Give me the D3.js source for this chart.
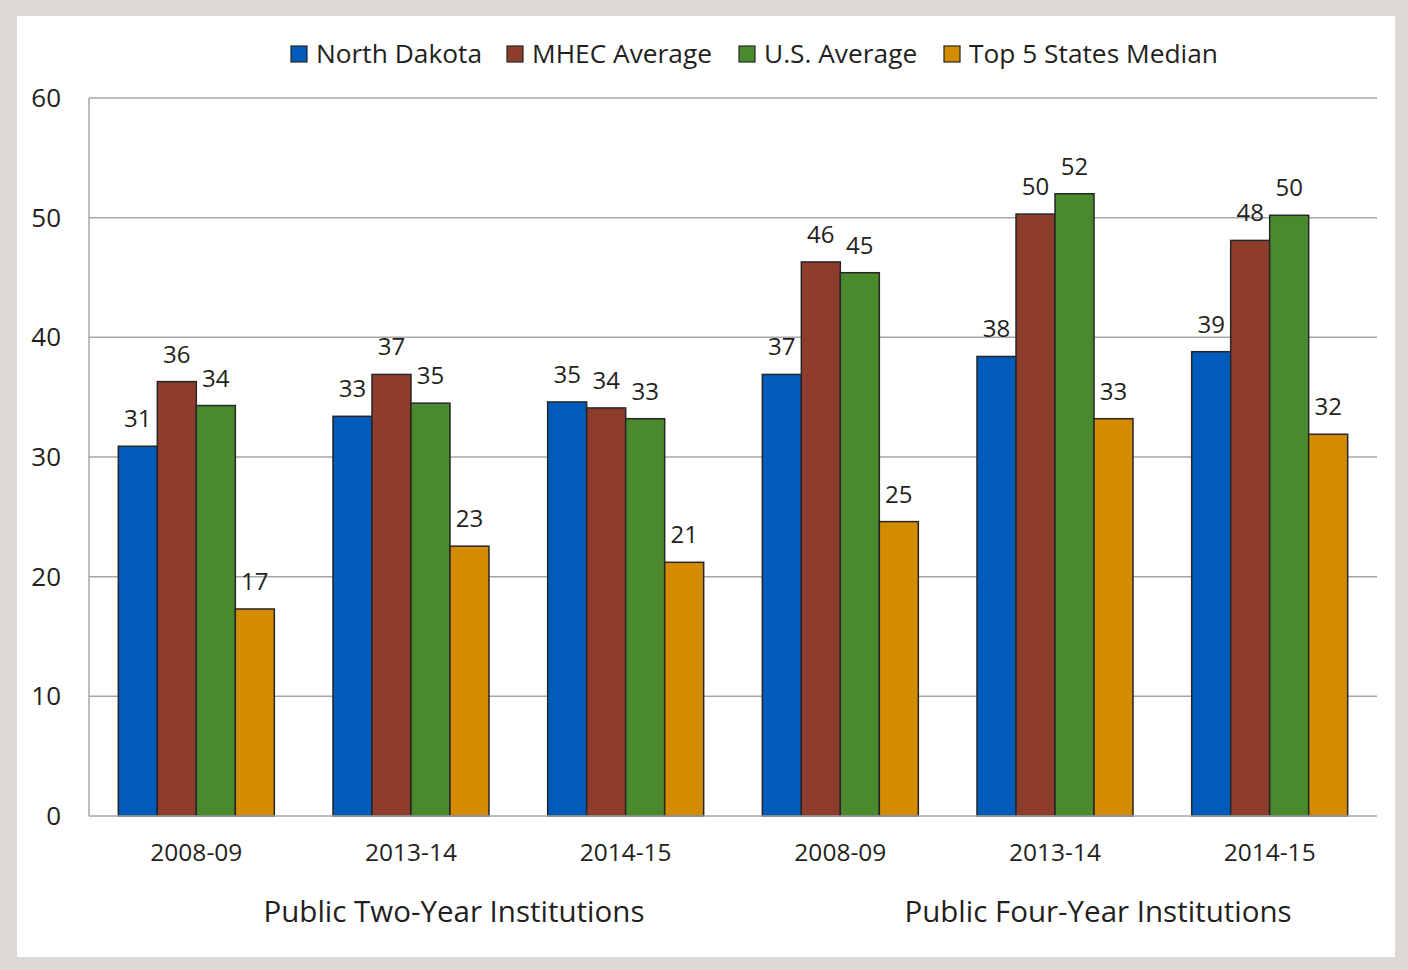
<!DOCTYPE html>
<html lang="en">
<head>
  <meta charset="utf-8">
  <title>North Dakota vs MHEC</title>
  <script src="https://cdn.jsdelivr.net/npm/d3@7"></script>
  <style>
    body { margin: 0; background: #dcd8d5; }
    svg text { font-family: "Open Sans", "Noto Sans", sans-serif; fill: #231f20; }
    .grid line { stroke: #a6a6a6; stroke-width: 1.5; }
  </style>
</head>
<body>
<div id="chart"></div>
<script>
  // data
  var categories = ['2008-09', '2013-14', '2014-15', '2008-09', '2013-14', '2014-15'];
  var groups = ['Public Two-Year Institutions', 'Public Four-Year Institutions'];
  var seriesNames = ['North Dakota', 'MHEC Average', 'U.S. Average', 'Top 5 States Median'];
  var northDakota = [30.9, 33.4, 34.6, 36.9, 38.4, 38.8];
  var mhecAverage = [36.3, 36.9, 34.1, 46.3, 50.3, 48.1];
  var usAverage = [34.3, 34.5, 33.2, 45.4, 52.0, 50.2];
  var top5Median = [17.3, 22.55, 21.2, 24.6, 33.2, 31.9];
  var yTicks = [0, 10, 20, 30, 40, 50, 60];

  var colors = ['#005bbb', '#8e3d2c', '#4a8a2d', '#d38b00'];
  var series = [northDakota, mhecAverage, usAverage, top5Median];

  var W = 1408, H = 970;
  var plot = { left: 89, right: 1377, top: 98, bottom: 816 };

  var svg = d3.select('#chart').append('svg')
    .attr('width', W).attr('height', H)
    .style('display', 'block');

  svg.append('rect')
    .attr('x', 17).attr('y', 16)
    .attr('width', 1378).attr('height', 941)
    .attr('fill', 'white');

  var x0 = d3.scaleBand()
    .domain(d3.range(categories.length))
    .range([plot.left, plot.right])
    .paddingInner(0.2733).paddingOuter(0.1366);

  var x1 = d3.scaleBand()
    .domain(d3.range(seriesNames.length))
    .range([0, x0.bandwidth()]);

  var y = d3.scaleLinear()
    .domain([0, 60])
    .range([plot.bottom, plot.top]);

  // gridlines
  svg.append('g').attr('class', 'grid')
    .selectAll('line')
    .data(yTicks.slice(1))
    .enter().append('line')
    .attr('x1', plot.left).attr('x2', plot.right)
    .attr('y1', d => y(d)).attr('y2', d => y(d));

  // y labels
  svg.append('g')
    .selectAll('text')
    .data(yTicks)
    .enter().append('text')
    .attr('x', 61)
    .attr('y', d => y(d))
    .attr('dy', '0.35em')
    .attr('text-anchor', 'end')
    .style('font-size', '26px')
    .text(d => d);

  // bars
  var barData = [];
  series.forEach(function (s, si) {
    s.forEach(function (v, ci) { barData.push({ s: si, c: ci, v: v }); });
  });

  svg.append('g')
    .selectAll('rect')
    .data(barData)
    .enter().append('rect')
    .attr('x', d => x0(d.c) + x1(d.s))
    .attr('y', d => y(d.v))
    .attr('width', x1.bandwidth())
    .attr('height', d => y(0) - y(d.v))
    .attr('fill', d => colors[d.s])
    .attr('stroke', '#262626')
    .attr('stroke-width', 1.5);

  svg.append('g')
    .selectAll('text')
    .data(barData)
    .enter().append('text')
    .attr('x', d => x0(d.c) + x1(d.s) + x1.bandwidth() / 2)
    .attr('y', d => y(d.v) - 19)
    .attr('text-anchor', 'middle')
    .style('font-size', '24px')
    .text(d => Math.round(d.v));

  // axis lines
  svg.append('line')
    .attr('x1', plot.left).attr('x2', plot.left)
    .attr('y1', plot.top).attr('y2', plot.bottom)
    .attr('stroke', '#a6a6a6').attr('stroke-width', 1.5);
  svg.append('line')
    .attr('x1', plot.left).attr('x2', plot.right)
    .attr('y1', plot.bottom).attr('y2', plot.bottom)
    .attr('stroke', '#a6a6a6').attr('stroke-width', 1.5);

  // category labels
  svg.append('g')
    .selectAll('text')
    .data(categories)
    .enter().append('text')
    .attr('x', (d, i) => x0(i) + x0.bandwidth() / 2)
    .attr('y', 861)
    .attr('text-anchor', 'middle')
    .style('font-size', '24.5px')
    .text(d => d);

  // group labels
  svg.append('g')
    .selectAll('text')
    .data(groups)
    .enter().append('text')
    .attr('x', (d, i) => x0(i * 3 + 1) + x0.bandwidth() / 2 + 43)
    .attr('y', 922)
    .attr('text-anchor', 'middle')
    .style('font-size', '29.5px')
    .text(d => d);

  // legend
  var legendX = [291, 507, 739, 944];
  var legend = svg.append('g')
    .selectAll('g')
    .data(seriesNames)
    .enter().append('g')
    .attr('transform', (d, i) => 'translate(' + legendX[i] + ',46)');
  legend.append('rect')
    .attr('width', 16).attr('height', 16)
    .attr('fill', (d, i) => colors[i])
    .attr('stroke', '#262626').attr('stroke-width', 1.2);
  legend.append('text')
    .attr('x', 25).attr('y', 8)
    .attr('dy', '0.35em')
    .style('font-size', '26.3px')
    .text(d => d);
</script>
</body>
</html>
